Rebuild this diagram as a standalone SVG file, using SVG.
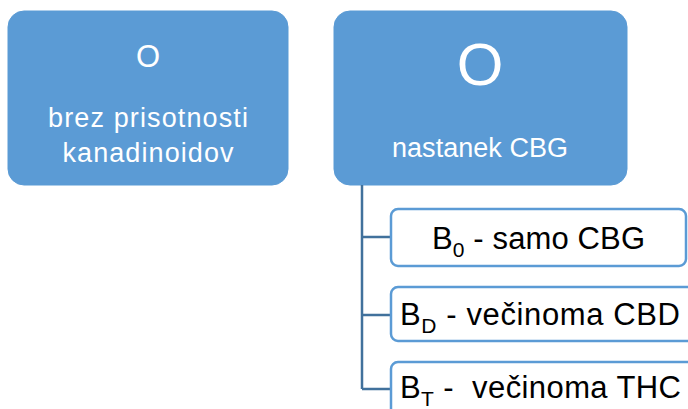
<svg xmlns="http://www.w3.org/2000/svg" width="688" height="409" viewBox="0 0 688 409">
<style>
.top{fill:#5B9BD5;stroke:#5B9BD5;stroke-width:1}
.child{fill:#FFFFFF;stroke:#5B9BD5;stroke-width:2.5}
.wt{fill:#FFFFFF;font-family:"Liberation Sans",Arial,sans-serif;text-anchor:middle}
.bt{fill:#000000;font-family:"Liberation Sans",Arial,sans-serif}
.conn{fill:none;stroke:#41719C;stroke-width:2.5}
</style>
<rect width="688" height="409" fill="#FFFFFF"/>
<g id="node-o-small">
<rect class="top" x="8" y="11" width="280" height="174" rx="16"/>
<text class="wt" x="148" y="67" font-size="31">O</text>
<text class="wt" x="148" y="127" font-size="27" textLength="200">brez prisotnosti</text>
<text class="wt" x="148" y="162" font-size="27" textLength="171">kanadinoidov</text>
</g>
<g id="node-o-big">
<rect class="top" x="334" y="11" width="293" height="174" rx="16"/>
<text class="wt" x="480" y="85" font-size="60">O</text>
<text class="wt" x="480" y="157" font-size="27" textLength="176">nastanek CBG</text>
</g>
<g id="connectors">
<path class="conn" d="M362 185 V389 M362 237 H391 M362 315 H391 M362 389 H391"/>
</g>
<g id="node-b0">
<rect class="child" x="391" y="209" width="295" height="57" rx="7"/>
<text class="bt" x="432" y="249" font-size="31" textLength="213">B<tspan font-size="21" dy="8">0</tspan><tspan dy="-8"> - samo CBG</tspan></text>
</g>
<g id="node-bd">
<rect class="child" x="391" y="287" width="305" height="54" rx="7"/>
<text class="bt" x="400" y="325" font-size="31" textLength="280">B<tspan font-size="21" dy="8">D</tspan><tspan dy="-8"> - večinoma CBD</tspan></text>
</g>
<g id="node-bt">
<rect class="child" x="391" y="362" width="305" height="60" rx="7"/>
<text class="bt" x="400" y="398" font-size="31" textLength="281" xml:space="preserve">B<tspan font-size="21" dy="8">T</tspan><tspan dy="-8"> -  večinoma THC</tspan></text>
</g>
</svg>
